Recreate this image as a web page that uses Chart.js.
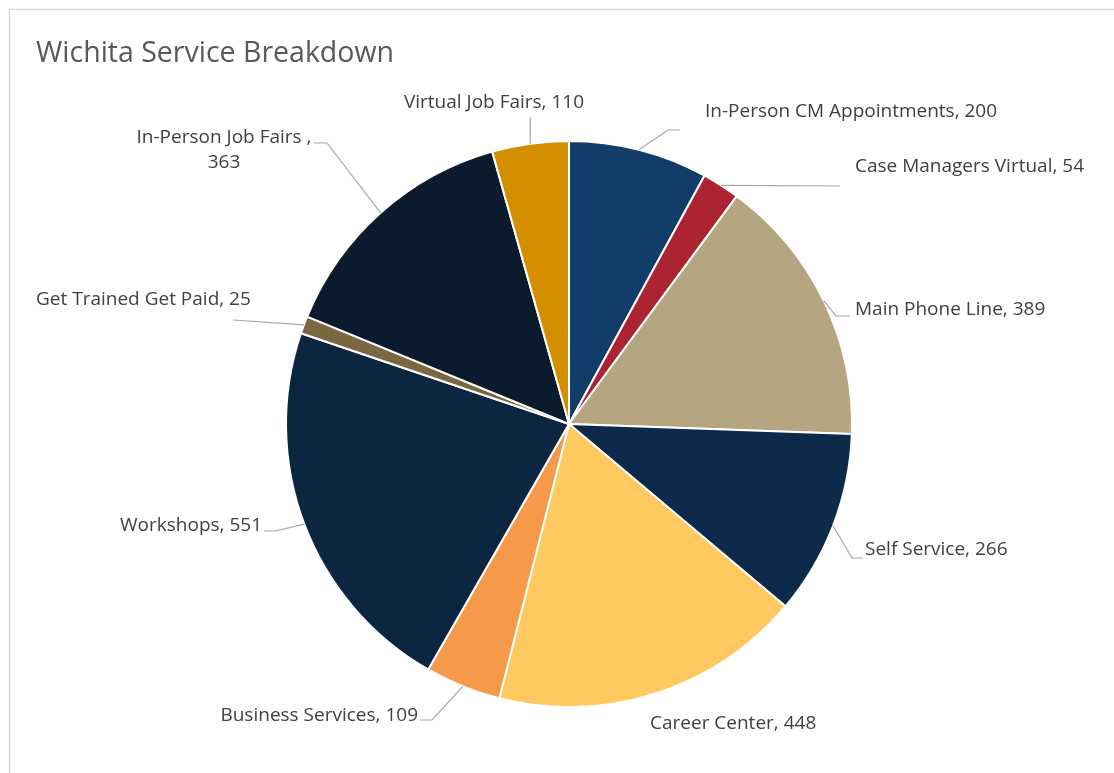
<!DOCTYPE html>
<html lang="en">
<head>
  <meta charset="UTF-8">
  <title>Wichita Service Breakdown</title>
  <script src="https://cdn.jsdelivr.net/npm/chart.js"></script>
  <style>
    body {
      margin: 0;
      background: #fff;
    }
    #wrap {
      width: 1114px;
      height: 773px;
    }
  </style>
</head>
<body>
  <div id="wrap">
    <canvas id="pieChart" width="1114" height="773"></canvas>
  </div>

  <script>
    const categories = [
      "In-Person CM Appointments", "Case Managers Virtual", "Main Phone Line", "Self Service",
      "Career Center", "Business Services", "Workshops", "Get Trained Get Paid",
      "In-Person Job Fairs ", "Virtual Job Fairs"
    ];
    const values = [200, 54, 389, 266, 448, 109, 551, 25, 363, 110];
    const colors = [
      "#133d69", "#ac2431", "#b5a681", "#0e2a4a", "#ffc960",
      "#f7994a", "#0c2642", "#7a6840", "#0b1a2c", "#d48f00"
    ];

    // where each data label sits; elbow = leader bend point, end = where the leader stops
    const labelLayout = [
      { x: 705, y: 112, align: "left",   elbow: [668, 130], end: [680, 130] },
      { x: 855, y: 167, align: "left",   elbow: null,       end: [840, 186] },
      { x: 855, y: 310, align: "left",   elbow: [836, 316], end: [850, 316] },
      { x: 865, y: 550, align: "left",   elbow: [852, 558], end: [863, 558] },
      { x: 650, y: 724, align: "left",   elbow: null,       end: null },
      { x: 418, y: 716, align: "right",  elbow: [432, 720], end: [420, 720] },
      { x: 262, y: 526, align: "right",  elbow: [275, 531], end: [264, 531] },
      { x: 36,  y: 300, align: "left",   elbow: null,       end: [233, 320] },
      { x: 224, y: 138, align: "center", elbow: [327, 143], end: [314, 143], lines: 2 },
      { x: 494, y: 103, align: "center", elbow: null,       end: "up" }
    ];

    const labelPlugin = {
      id: "excelLabels",
      afterDraw(chart) {
        const ctx = chart.ctx;
        ctx.save();

        // frame
        ctx.strokeStyle = "#d9d9d9";
        ctx.lineWidth = 1.5;
        ctx.strokeRect(9.5, 9.5, 1300, 1000);

        // title
        ctx.fillStyle = "#595959";
        ctx.font = "28.5px 'Open Sans', sans-serif";
        ctx.textAlign = "left";
        ctx.textBaseline = "middle";
        ctx.fillText("Wichita Service Breakdown", 36, 54);

        const meta = chart.getDatasetMeta(0);
        ctx.font = "19px 'Open Sans', sans-serif";
        ctx.fillStyle = "#404040";
        ctx.strokeStyle = "#a6a6a6";
        ctx.lineWidth = 1.2;

        meta.data.forEach((arc, i) => {
          const lay = labelLayout[i];
          const p = arc.getProps(["x", "y", "startAngle", "endAngle", "outerRadius"], true);
          const mid = (p.startAngle + p.endAngle) / 2;
          const ax = p.x + Math.cos(mid) * p.outerRadius;
          const ay = p.y + Math.sin(mid) * p.outerRadius;

          if (lay.end) {
            ctx.beginPath();
            ctx.moveTo(ax, ay);
            if (lay.end === "up") {
              ctx.lineTo(ax, 117);
            } else {
              if (lay.elbow) ctx.lineTo(lay.elbow[0], lay.elbow[1]);
              ctx.lineTo(lay.end[0], lay.end[1]);
            }
            ctx.stroke();
          }

          ctx.textAlign = lay.align;
          const val = chart.data.datasets[0].data[i];
          const name = chart.data.labels[i];
          if (lay.lines === 2) {
            ctx.fillText(name + ",", lay.x, lay.y);
            ctx.fillText(String(val), lay.x, lay.y + 25);
          } else {
            ctx.fillText(name + ", " + val, lay.x, lay.y);
          }
        });

        ctx.restore();
      }
    };

    new Chart(document.getElementById("pieChart"), {
      type: "pie",
      data: {
        labels: categories,
        datasets: [{
          data: values,
          backgroundColor: colors,
          borderColor: "#ffffff",
          borderWidth: 2
        }]
      },
      options: {
        responsive: false,
        animation: false,
        layout: {
          padding: { left: 285, right: 261, top: 140, bottom: 65 }
        },
        plugins: {
          legend: { display: false },
          tooltip: { enabled: false },
          title: { display: false }
        }
      },
      plugins: [labelPlugin]
    });
  </script>
</body>
</html>
